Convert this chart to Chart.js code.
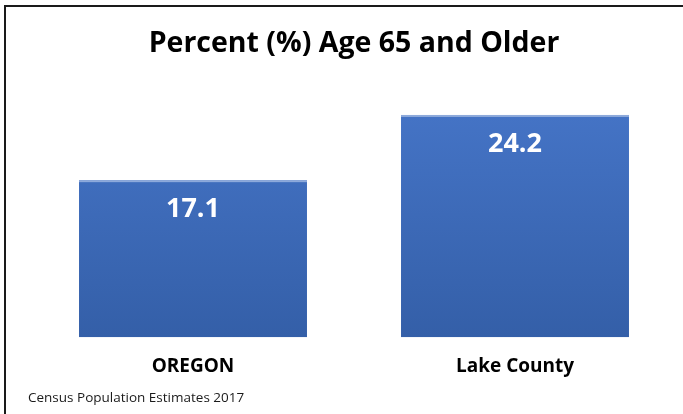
<!DOCTYPE html>
<html>
<head>
<meta charset="utf-8">
<script src="https://cdn.jsdelivr.net/npm/chart.js@4"></script>
<style>
  body { margin: 0; background: #fff; }
  #wrap { position: relative; width: 683px; height: 414px; }
</style>
</head>
<body>
<div id="wrap"><canvas id="ageChart"></canvas></div>
<script>
const categories = ['OREGON', 'Lake County'];
const values = [17.1, 24.2];
const chartTitle = 'Percent (%) Age 65 and Older';
const sourceNote = 'Census Population Estimates 2017';

const FONT = '"Open Sans", Lato, sans-serif';

// frame line on left + top, value labels and source note
const extras = {
  id: 'extras',
  beforeDraw(chart) {
    const c = chart.ctx;
    c.save();
    c.strokeStyle = '#1a1a1a';
    c.lineWidth = 2;
    c.beginPath();
    c.moveTo(5, 414);
    c.lineTo(5, 6);
    c.lineTo(683, 6);
    c.stroke();
    c.restore();
  },
  afterDatasetsDraw(chart) {
    const c = chart.ctx;
    const meta = chart.getDatasetMeta(0);
    c.save();
    c.textAlign = 'center';
    c.textBaseline = 'middle';
    meta.data.forEach((bar, i) => {
      // light top edge
      c.fillStyle = '#8eaadb';
      c.fillRect(bar.x - bar.width / 2, bar.y, bar.width, 2);
      c.fillStyle = '#ffffff';
      c.font = 'bold 27px ' + FONT;
      c.fillText(values[i].toFixed(1), bar.x, bar.y + 29);
    });
    c.fillStyle = '#1a1a1a';
    c.font = '13.5px ' + FONT;
    c.textAlign = 'left';
    c.fillText(sourceNote, 28, 398);
    c.restore();
  }
};

let ctx = document.getElementById('ageChart');
let chart = new Chart(ctx, {
  type: 'bar',
  data: {
    labels: categories,
    datasets: [{
      data: values,
      backgroundColor: function(context) {
        const area = context.chart.chartArea;
        if (!area) return '#4472c4';
        const g = context.chart.ctx.createLinearGradient(0, area.top, 0, area.bottom);
        g.addColorStop(0, '#4878cc');
        g.addColorStop(1, '#345fa8');
        return g;
      },
      categoryPercentage: 1,
      barPercentage: 0.708
    }]
  },
  options: {
    responsive: true,
    maintainAspectRatio: false,
    animation: false,
    layout: { padding: { left: 32, right: 7, top: 0, bottom: 18 } },
    plugins: {
      legend: { display: false },
      tooltip: { enabled: false },
      title: {
        display: true,
        text: chartTitle,
        color: '#000',
        font: { family: FONT, size: 28.5, weight: 'bold' },
        padding: { top: 27, bottom: 0.5 }
      }
    },
    scales: {
      x: {
        grid: { display: false, drawTicks: false },
        border: { display: false },
        ticks: {
          color: '#000',
          padding: 18,
          font: { family: FONT, size: 19, weight: 'bold' }
        }
      },
      y: {
        display: false,
        min: 0,
        max: 30
      }
    }
  },
  plugins: [extras]
});
</script>
</body>
</html>
